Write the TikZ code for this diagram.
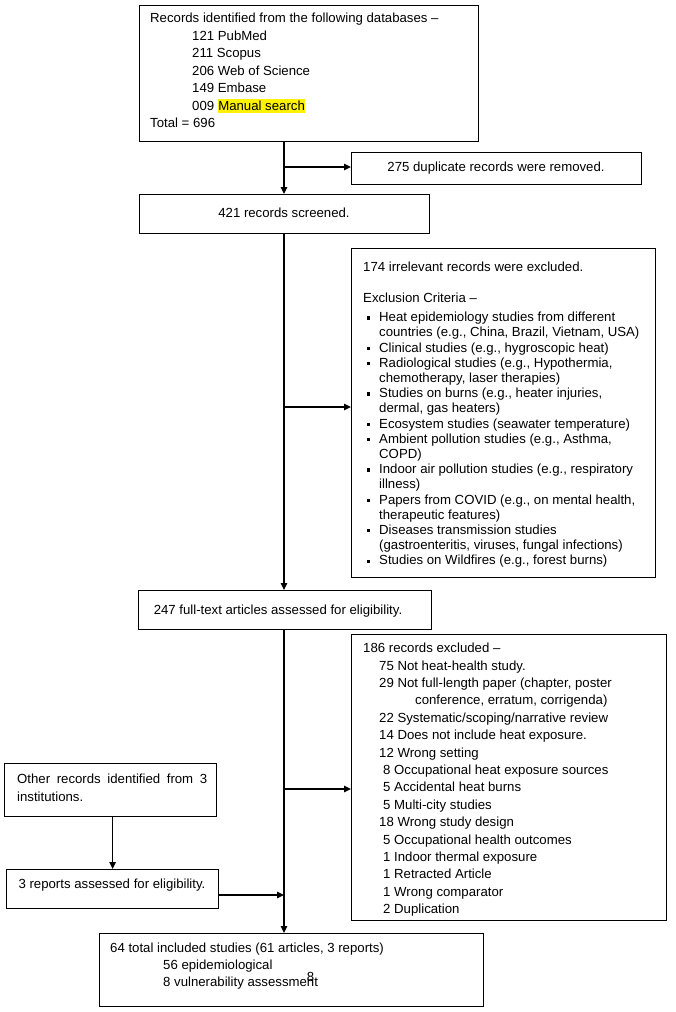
\documentclass[tikz,border=0pt]{standalone}
\usepackage{fontspec}
\setmainfont{Liberation Sans}
\usetikzlibrary{arrows.meta}
\newcommand{\fsz}{\fontsize{13.2}{15.2}\selectfont}
\begin{document}
\begin{tikzpicture}[x=1pt,y=-1pt,
  box/.style={draw, line width=1.3pt, rectangle, inner sep=0pt, anchor=north west, fill=white},
  txt/.style={inner sep=0pt, anchor=base west, font=\fsz},
  ctxt/.style={inner sep=0pt, anchor=base, font=\fsz},
  arr/.style={line width=1.3pt, -{Triangle[length=7pt,width=6.5pt]}}]
\useasboundingbox (0,0) rectangle (675,1012);
% boxes
\node[box, minimum width=339pt, minimum height=136pt] (b1) at (139,5) {};
\node[box, minimum width=290pt, minimum height=32pt] (b2) at (351,152) {};
\node[box, minimum width=290pt, minimum height=39pt] (b3) at (139,194) {};
\node[box, minimum width=304pt, minimum height=329pt] (b4) at (351,248) {};
\node[box, minimum width=293pt, minimum height=39pt] (b5) at (138,590) {};
\node[box, minimum width=315pt, minimum height=286pt] (b6) at (351,634) {};
\node[box, minimum width=212pt, minimum height=53pt] (b7) at (4,763) {};
\node[box, minimum width=212pt, minimum height=39pt] (b8) at (6,869) {};
\node[box, minimum width=384pt, minimum height=73pt] (b9) at (99,933) {};
% box 1 text
\node[txt] (t11) at (150,22.9) {Records identified from the following databases –};
\node[txt] (t12) at (192,40.4) {121 PubMed};
\node[txt] (t13) at (192,57.9) {211 Scopus};
\node[txt] (t14) at (192,75.4) {206 Web of Science};
\node[txt] (t15) at (192,92.9) {149 Embase};
\node[txt] (t16) at (192,110.4) {009};
\node[txt, fill=yellow, text height=11pt, text depth=2.9pt] (hl) at ([xshift=3.67pt]t16.base east) {Manual search};
\node[txt] (t17) at (150,127.9) {Total = 696};
% centred texts
\node[ctxt] (t2) at (496,171.6) {275 duplicate records were removed.};
\node[ctxt] (t3) at (284,217.6) {421 records screened.};
\node[ctxt] (t5) at (278,614.6) {247 full-text articles assessed for eligibility.};
\node[ctxt] (t8) at (112,888.6) {3 reports assessed for eligibility.};
% box 4 text
\node[txt] (t41) at (363,271.6) {174 irrelevant records were excluded.};
\node[txt] (t42) at (363,302.6) {Exclusion Criteria –};
\foreach \t [count=\i from 0] in {
  {Heat epidemiology studies from different},
  {countries (e.g., China, Brazil, Vietnam, USA)},
  {Clinical studies (e.g., hygroscopic heat)},
  {Radiological studies (e.g., Hypothermia,},
  {chemotherapy, laser therapies)},
  {Studies on burns (e.g., heater injuries,},
  {dermal, gas heaters)},
  {Ecosystem studies (seawater temperature)},
  {Ambient pollution studies (e.g., Asthma,},
  {COPD)},
  {Indoor air pollution studies (e.g., respiratory},
  {illness)},
  {Papers from COVID (e.g., on mental health,},
  {therapeutic features)},
  {Diseases transmission studies},
  {(gastroenteritis, viruses, fungal infections)},
  {Studies on Wildfires (e.g., forest burns)}}
  \node[txt] (c\i) at (379,{321.6+15.2*\i}) {\t};
\foreach \i in {0,2,3,5,7,8,10,12,14,16}
  \fill ([xshift=-12.4pt,yshift=2.1pt]c\i.base west) rectangle ++(3.1pt,3.1pt);
% box 6 text
\node[txt] (u0) at (363,652.6) {186 records excluded –};
\node[txt] (u1) at (379,670.0) {75 Not heat-health study.};
\node[txt] (u2) at (379,687.4) {29 Not full-length paper (chapter, poster};
\node[txt] (u3) at (415,704.8) {conference, erratum, corrigenda)};
\node[txt] (u4) at (379,722.2) {22 Systematic/scoping/narrative review};
\node[txt] (u5) at (379,739.6) {14 Does not include heat exposure.};
\node[txt] (u6) at (379,757.0) {12 Wrong setting};
\node[txt] (u7) at (383,774.4) {8 Occupational heat exposure sources};
\node[txt] (u8) at (383,791.8) {5 Accidental heat burns};
\node[txt] (u9) at (383,809.2) {5 Multi-city studies};
\node[txt] (u10) at (379,826.6) {18 Wrong study design};
\node[txt] (u11) at (383,844.0) {5 Occupational health outcomes};
\node[txt] (u12) at (383,861.4) {1 Indoor thermal exposure};
\node[txt] (u13) at (383,878.8) {1 Retracted Article};
\node[txt] (u14) at (383,896.2) {1 Wrong comparator};
\node[txt] (u15) at (383,913.6) {2 Duplication};
% box 7 text
\node[txt] (o1) at (17,783.6) {\makebox[190pt][s]{Other records identified from 3}};
\node[txt] (o2) at (17,801.6) {institutions.};
% box 9 text
\node[txt] (f1) at (110,952.4) {64 total included studies (61 articles, 3 reports)};
\node[txt] (f2) at (163,969.6) {56 epidemiological};
\node[txt] (f3) at (163,986.4) {8 vulnerability assessment};
\node[txt] (f4) at (306.7,981.6) {8};
% connectors
\coordinate (spine) at (284,0);
\coordinate (j1) at (284,167);
\coordinate (j2) at (284,407);
\coordinate (j3) at (284,789);
\coordinate (j4) at (284,895);
\draw[arr] (b1.south -| spine) -- (b3.north -| spine);
\draw[arr] (j1) -- (b2.west |- j1);
\draw[arr] (b3.south -| spine) -- (b5.north -| spine);
\draw[arr] (j2) -- (b4.west |- j2);
\draw[arr] (b5.south -| spine) -- (b9.north -| spine);
\draw[arr] (j3) -- (b6.west |- j3);
\draw[arr] (b7.south -| b8.north) -- (b8.north);
\draw[arr] (b8.east |- j4) -- (j4);
\end{tikzpicture}
\end{document}
